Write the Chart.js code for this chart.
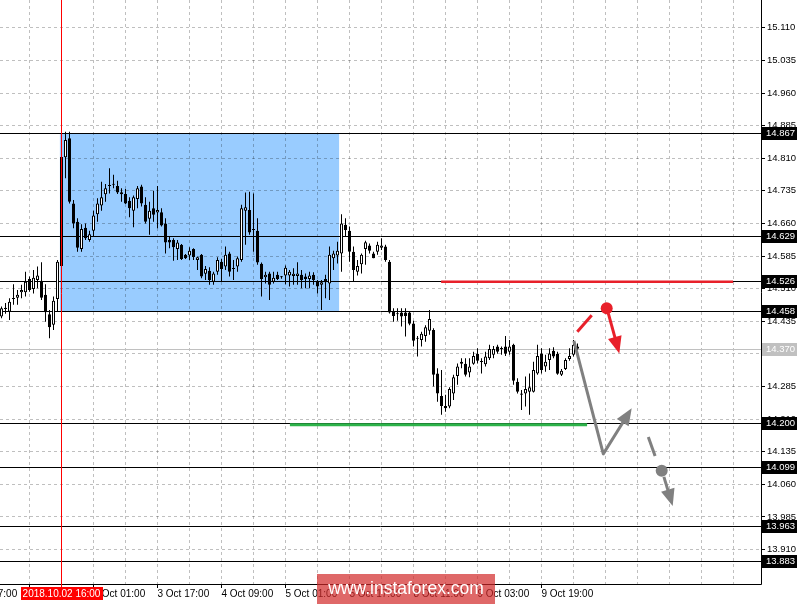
<!DOCTYPE html>
<html>
<head>
<meta charset="utf-8">
<script src="https://cdn.jsdelivr.net/npm/chart.js@4.4.1/dist/chart.umd.min.js"></script>
<style>
  html, body { margin: 0; padding: 0; background: #fff; }
</style>
</head>
<body>
<canvas id="chart" width="809" height="605"></canvas>
<script>
// H1 candles, oldest first (bar index 0 = left edge)
const opens = [
  14.446, 14.463, 14.457, 14.486, 14.489, 14.502, 14.502, 14.532, 14.509, 14.530,
  14.528, 14.496, 14.451, 14.427, 14.486, 14.562, 14.812, 14.856, 14.706, 14.664,
  14.601, 14.650, 14.622, 14.643, 14.681, 14.701, 14.727, 14.746, 14.749, 14.746,
  14.727, 14.728, 14.712, 14.689, 14.716, 14.745, 14.703, 14.671, 14.695, 14.685,
  14.686, 14.660, 14.622, 14.622, 14.601, 14.611, 14.588, 14.586, 14.601, 14.576,
  14.588, 14.544, 14.551, 14.526, 14.549, 14.572, 14.561, 14.591, 14.555, 14.561,
  14.576, 14.689, 14.691, 14.647, 14.643, 14.567, 14.536, 14.545, 14.526, 14.542,
  14.536, 14.540, 14.540, 14.539, 14.539, 14.542, 14.538, 14.532, 14.542, 14.526,
  14.519, 14.532, 14.522, 14.580, 14.586, 14.591, 14.657, 14.643, 14.595, 14.549,
  14.566, 14.601, 14.609, 14.591, 14.595, 14.604, 14.607, 14.572, 14.457, 14.452,
  14.455, 14.455, 14.455, 14.430, 14.396, 14.392, 14.401, 14.413, 14.415, 14.315,
  14.263, 14.240, 14.239, 14.269, 14.309, 14.337, 14.337, 14.317, 14.337, 14.360,
  14.341, 14.336, 14.350, 14.358, 14.377, 14.371, 14.377, 14.365, 14.381, 14.296,
  14.269, 14.269, 14.273, 14.273, 14.315, 14.361, 14.331, 14.346, 14.367, 14.360,
  14.312, 14.325, 14.348, 14.358, 14.377
];
const highs = [
  14.469, 14.477, 14.488, 14.520, 14.507, 14.519, 14.549, 14.538, 14.553, 14.561,
  14.571, 14.520, 14.461, 14.492, 14.576, 14.822, 14.871, 14.871, 14.714, 14.672,
  14.658, 14.660, 14.643, 14.689, 14.718, 14.756, 14.751, 14.787, 14.772, 14.758,
  14.741, 14.739, 14.720, 14.724, 14.746, 14.749, 14.720, 14.710, 14.735, 14.746,
  14.695, 14.672, 14.630, 14.626, 14.622, 14.613, 14.590, 14.605, 14.603, 14.584,
  14.590, 14.562, 14.559, 14.549, 14.582, 14.578, 14.607, 14.595, 14.576, 14.584,
  14.703, 14.731, 14.733, 14.729, 14.672, 14.570, 14.549, 14.549, 14.549, 14.549,
  14.539, 14.563, 14.553, 14.557, 14.571, 14.553, 14.545, 14.549, 14.548, 14.530,
  14.530, 14.542, 14.607, 14.597, 14.618, 14.681, 14.672, 14.653, 14.607, 14.576,
  14.591, 14.620, 14.614, 14.595, 14.618, 14.626, 14.611, 14.576, 14.465, 14.465,
  14.465, 14.465, 14.457, 14.436, 14.401, 14.411, 14.426, 14.461, 14.419, 14.327,
  14.323, 14.266, 14.283, 14.312, 14.338, 14.350, 14.350, 14.350, 14.365, 14.373,
  14.350, 14.365, 14.381, 14.378, 14.381, 14.377, 14.401, 14.392, 14.383, 14.304,
  14.277, 14.308, 14.315, 14.342, 14.381, 14.373, 14.358, 14.373, 14.375, 14.365,
  14.325, 14.350, 14.373, 14.392, 14.384
];
const lows = [
  14.442, 14.452, 14.438, 14.473, 14.473, 14.488, 14.492, 14.503, 14.499, 14.511,
  14.484, 14.434, 14.396, 14.415, 14.457, 14.562, 14.764, 14.706, 14.649, 14.595,
  14.595, 14.622, 14.618, 14.630, 14.664, 14.689, 14.710, 14.729, 14.741, 14.728,
  14.710, 14.705, 14.674, 14.651, 14.695, 14.699, 14.660, 14.634, 14.664, 14.649,
  14.653, 14.591, 14.603, 14.574, 14.576, 14.576, 14.578, 14.576, 14.576, 14.553,
  14.534, 14.530, 14.519, 14.519, 14.542, 14.526, 14.553, 14.538, 14.530, 14.549,
  14.572, 14.611, 14.634, 14.595, 14.565, 14.492, 14.522, 14.484, 14.522, 14.530,
  14.533, 14.520, 14.515, 14.519, 14.519, 14.511, 14.511, 14.511, 14.519, 14.499,
  14.461, 14.488, 14.484, 14.553, 14.568, 14.549, 14.630, 14.572, 14.526, 14.540,
  14.545, 14.565, 14.591, 14.580, 14.588, 14.599, 14.572, 14.453, 14.434, 14.436,
  14.423, 14.400, 14.426, 14.377, 14.354, 14.377, 14.388, 14.404, 14.285, 14.250,
  14.220, 14.227, 14.235, 14.254, 14.289, 14.327, 14.308, 14.306, 14.335, 14.338,
  14.315, 14.331, 14.346, 14.350, 14.360, 14.358, 14.355, 14.358, 14.289, 14.269,
  14.231, 14.239, 14.220, 14.271, 14.312, 14.315, 14.319, 14.323, 14.350, 14.312,
  14.309, 14.323, 14.344, 14.354, 14.369
];
const closes = [
  14.465, 14.466, 14.480, 14.487, 14.496, 14.507, 14.526, 14.507, 14.535, 14.540,
  14.489, 14.456, 14.421, 14.482, 14.572, 14.813, 14.852, 14.710, 14.660, 14.604,
  14.647, 14.626, 14.635, 14.678, 14.706, 14.720, 14.741, 14.748, 14.750, 14.731,
  14.732, 14.706, 14.695, 14.720, 14.741, 14.706, 14.664, 14.689, 14.680, 14.691,
  14.655, 14.616, 14.616, 14.605, 14.616, 14.578, 14.580, 14.597, 14.583, 14.582,
  14.538, 14.555, 14.530, 14.545, 14.576, 14.555, 14.588, 14.549, 14.556, 14.580,
  14.695, 14.697, 14.639, 14.645, 14.570, 14.532, 14.542, 14.519, 14.535, 14.532,
  14.537, 14.558, 14.549, 14.544, 14.545, 14.530, 14.532, 14.540, 14.530, 14.515,
  14.525, 14.525, 14.588, 14.591, 14.597, 14.660, 14.645, 14.595, 14.553, 14.562,
  14.588, 14.617, 14.597, 14.580, 14.611, 14.609, 14.576, 14.455, 14.447, 14.451,
  14.446, 14.447, 14.429, 14.390, 14.395, 14.406, 14.421, 14.440, 14.312, 14.269,
  14.240, 14.235, 14.279, 14.306, 14.331, 14.342, 14.312, 14.331, 14.355, 14.344,
  14.343, 14.354, 14.371, 14.371, 14.365, 14.373, 14.360, 14.377, 14.298, 14.273,
  14.266, 14.279, 14.283, 14.323, 14.355, 14.323, 14.342, 14.361, 14.354, 14.314,
  14.321, 14.346, 14.355, 14.381, 14.372
];

// axis ticks
const timeTickBars = [-9, 7, 23, 39, 55, 71, 87, 103, 119, 135];
const timeTickLabels = ['1 Oct 17:00', '2 Oct 09:00', '3 Oct 01:00', '3 Oct 17:00', '4 Oct 09:00',
  '5 Oct 01:00', '5 Oct 17:00', '8 Oct 11:00', '9 Oct 03:00', '9 Oct 19:00'];
const priceTicks = [13.910, 13.985, 14.060, 14.135, 14.210, 14.285, 14.360, 14.435, 14.510,
  14.585, 14.660, 14.735, 14.810, 14.885, 14.960, 15.035, 15.110];

// drawn objects
const levelPrices = [14.867, 14.629, 14.526, 14.458, 14.200, 14.099, 13.963, 13.883];
const bidPrice = 14.370;
const boxBars = [14.6, 84.4];
const boxPrices = [14.458, 14.866];
const markerBar = 15;
const markerLabel = '2018.10.02 16:00';
const redLineBars = [109.9, 182.9];
const redLinePrice = 14.526;
const greenLineBars = [72.1, 146.4];
const greenLinePrice = 14.197;
const redDashBars = [143.95, 147.55];
const redDashPrices = [14.411, 14.449];
const redDot = [151.3, 14.465];
const redArrowBars = [151.7, 154.45];
const redArrowPrices = [14.453, 14.361];
const grayPathBars = [143.1, 150.45, 157.55];
const grayPathPrices = [14.390, 14.130, 14.235];
const grayDashBars = [161.7, 163.4];
const grayDashPrices = [14.169, 14.125];
const grayDot = [165.05, 14.091];
const grayArrowBars = [165.6, 167.8];
const grayArrowPrices = [14.077, 14.010];

const FONT = '"Liberation Sans", Arial, sans-serif';
const RED = '#e8202a';
const GRAY = '#808080';

const bodies = opens.map((o, i) => ({ x: i, y: [o, closes[i]] }));
const wicks = opens.map((o, i) => ({ x: i, y: [lows[i], highs[i]] }));
const bodyColors = opens.map((o, i) => closes[i] >= o ? '#ffffff' : '#000000');

const px = (c, v) => c.scales.x.getPixelForValue(v);
const py = (c, v) => c.scales.y.getPixelForValue(v);

function hline(g, x1, x2, y) {
  const yy = Math.floor(y) + 0.5;
  g.beginPath(); g.moveTo(x1, yy); g.lineTo(x2, yy); g.stroke();
}

function arrow(g, pts, color, lw, headLen, headHalf) {
  g.strokeStyle = color; g.fillStyle = color; g.lineWidth = lw;
  g.lineJoin = 'round'; g.lineCap = 'butt';
  const n = pts.length;
  const [xa, ya] = pts[n - 2], [xb, yb] = pts[n - 1];
  const ang = Math.atan2(yb - ya, xb - xa);
  const bx = xb - Math.cos(ang) * headLen, by = yb - Math.sin(ang) * headLen;
  g.beginPath();
  g.moveTo(pts[0][0], pts[0][1]);
  for (let i = 1; i < n - 1; i++) g.lineTo(pts[i][0], pts[i][1]);
  g.lineTo(bx + Math.cos(ang) * 2, by + Math.sin(ang) * 2);
  g.stroke();
  g.beginPath();
  g.moveTo(xb, yb);
  g.lineTo(bx + Math.sin(ang) * headHalf, by - Math.cos(ang) * headHalf);
  g.lineTo(bx - Math.sin(ang) * headHalf, by + Math.cos(ang) * headHalf);
  g.closePath(); g.fill();
}

function valueBox(g, c, v, bg) {
  const y = Math.floor(py(c, v));
  const x = c.chartArea.right + 1;
  g.fillStyle = bg;
  g.fillRect(x, y - 6, 35, 13);
  g.fillStyle = '#fff';
  g.textAlign = 'left'; g.textBaseline = 'middle';
  g.fillText(v.toFixed(3), x + 4, y + 0.5);
}

const overlay = {
  id: 'overlay',
  beforeDraw(c) {
    const g = c.ctx;
    g.save();
    g.fillStyle = '#fff';
    g.fillRect(0, 0, c.width, c.height);
    const x1 = px(c, boxBars[0]), x2 = px(c, boxBars[1]);
    const y1 = py(c, boxPrices[1]), y2 = py(c, boxPrices[0]);
    g.fillStyle = '#99ccff';
    g.fillRect(x1, y1, x2 - x1, y2 - y1);
    g.restore();
  },
  beforeDatasetsDraw(c) {
    const g = c.ctx, a = c.chartArea;
    g.save();
    g.lineWidth = 1;
    g.strokeStyle = '#c0c0c0';
    hline(g, a.left, a.right, py(c, bidPrice));
    g.strokeStyle = '#000';
    levelPrices.forEach(v => hline(g, a.left, a.right, py(c, v)));
    g.restore();
  },
  afterDatasetsDraw(c) {
    const g = c.ctx;
    g.save();
    // trend lines
    g.lineCap = 'butt';
    g.lineWidth = 2.5; g.strokeStyle = RED;
    g.beginPath();
    g.moveTo(px(c, redLineBars[0]), py(c, redLinePrice));
    g.lineTo(px(c, redLineBars[1]), py(c, redLinePrice));
    g.stroke();
    g.lineWidth = 3; g.strokeStyle = '#2db34a';
    g.beginPath();
    g.moveTo(px(c, greenLineBars[0]), py(c, greenLinePrice));
    g.lineTo(px(c, greenLineBars[1]), py(c, greenLinePrice));
    g.stroke();

    // red scenario
    g.lineWidth = 3; g.strokeStyle = RED;
    g.beginPath();
    g.moveTo(px(c, redDashBars[0]), py(c, redDashPrices[0]));
    g.lineTo(px(c, redDashBars[1]), py(c, redDashPrices[1]));
    g.stroke();
    g.fillStyle = RED;
    g.beginPath(); g.arc(px(c, redDot[0]), py(c, redDot[1]), 6, 0, Math.PI * 2); g.fill();
    arrow(g, redArrowBars.map((b, i) => [px(c, b), py(c, redArrowPrices[i])]), RED, 3, 17, 7);

    // gray scenario
    arrow(g, grayPathBars.map((b, i) => [px(c, b), py(c, grayPathPrices[i])]), GRAY, 3, 17, 7);
    g.lineWidth = 3; g.strokeStyle = GRAY;
    g.beginPath();
    g.moveTo(px(c, grayDashBars[0]), py(c, grayDashPrices[0]));
    g.lineTo(px(c, grayDashBars[1]), py(c, grayDashPrices[1]));
    g.stroke();
    g.fillStyle = GRAY;
    g.beginPath(); g.arc(px(c, grayDot[0]), py(c, grayDot[1]), 6, 0, Math.PI * 2); g.fill();
    arrow(g, grayArrowBars.map((b, i) => [px(c, b), py(c, grayArrowPrices[i])]), GRAY, 3, 17, 7);
    g.restore();
  },
  afterDraw(c) {
    const g = c.ctx, a = c.chartArea;
    g.save();
    // frame
    g.strokeStyle = '#000'; g.lineWidth = 1;
    g.beginPath();
    g.moveTo(a.right + 0.5, 0); g.lineTo(a.right + 0.5, a.bottom + 0.5);
    g.lineTo(0, a.bottom + 0.5);
    g.stroke();

    // marker line + date label
    const mx = Math.floor(px(c, markerBar)) + 0.5;
    g.strokeStyle = '#ff0000';
    g.beginPath(); g.moveTo(mx, 0); g.lineTo(mx, a.bottom + 3); g.stroke();
    g.font = '10px ' + FONT;
    const w = g.measureText(markerLabel).width + 4;
    g.fillStyle = '#ff0000';
    g.fillRect(Math.round(mx - w / 2), a.bottom + 3, Math.round(w), 13);
    g.fillStyle = '#fff';
    g.textAlign = 'center'; g.textBaseline = 'middle';
    g.fillText(markerLabel, mx, a.bottom + 10);

    // value boxes on the price axis
    g.font = '9.5px ' + FONT;
    levelPrices.forEach(v => valueBox(g, c, v, '#000'));
    valueBox(g, c, bidPrice, '#c0c0c0');

    // watermark
    g.fillStyle = 'rgba(210,40,40,0.7)';
    g.fillRect(317, 574, 178, 30);
    g.fillStyle = '#fff';
    g.font = '17.5px ' + FONT;
    g.textAlign = 'center'; g.textBaseline = 'middle';
    g.fillText('www.instaforex.com', 406, 589);
    g.restore();
  }
};

new Chart(document.getElementById('chart'), {
  type: 'bar',
  data: {
    datasets: [
      {
        data: bodies, order: 0,
        backgroundColor: bodyColors, borderColor: '#000', borderWidth: 1,
        borderSkipped: false, barThickness: 3, minBarLength: 1, inflateAmount: 0, grouped: false
      },
      {
        data: wicks, order: 1,
        backgroundColor: '#000', borderWidth: 0,
        borderSkipped: false, barThickness: 1, minBarLength: 1, inflateAmount: 0, grouped: false
      }
    ]
  },
  options: {
    responsive: false,
    animation: false,
    events: [],
    layout: { padding: 0 },
    plugins: { legend: { display: false }, tooltip: { enabled: false } },
    scales: {
      x: {
        type: 'linear', min: -0.375, max: 189.875, offset: false,
        afterBuildTicks: s => {
          const t = [];
          for (let b = -9; b <= 183; b += 8) t.push({ value: b });
          s.ticks = t;
        },
        afterFit: s => { s.height = 21; s.paddingLeft = 0; s.paddingRight = 0; },
        ticks: {
          autoSkip: false, maxRotation: 0, align: 'start', padding: 0,
          color: '#000', font: { family: FONT, size: 10 },
          callback: v => {
            const k = timeTickBars.indexOf(v);
            return k >= 0 ? timeTickLabels[k] : '';
          }
        },
        grid: {
          offset: false, color: 'rgba(0,0,0,0.25)', lineWidth: 1, borderDash: [3, 3],
          tickLength: 4, tickBorderDash: [],
          tickColor: ctx => (ctx.tick && timeTickBars.includes(ctx.tick.value)) ? '#000' : 'rgba(0,0,0,0)'
        },
        border: { display: false, dash: [3, 3] }
      },
      y: {
        type: 'linear', position: 'right', min: 13.8306, max: 15.174, beginAtZero: false,
        afterBuildTicks: s => { s.ticks = priceTicks.map(v => ({ value: v })); },
        afterFit: s => { s.width = 48; s.paddingTop = 0; s.paddingBottom = 0; },
        ticks: {
          autoSkip: false, padding: 2, color: '#000', font: { family: FONT, size: 9.5 },
          callback: v => v.toFixed(3)
        },
        grid: {
          color: 'rgba(0,0,0,0.25)', lineWidth: 1, borderDash: [3, 3],
          tickLength: 4, tickBorderDash: [], tickColor: '#000'
        },
        border: { display: false, dash: [3, 3] }
      }
    }
  },
  plugins: [overlay]
});
</script>
</body>
</html>
